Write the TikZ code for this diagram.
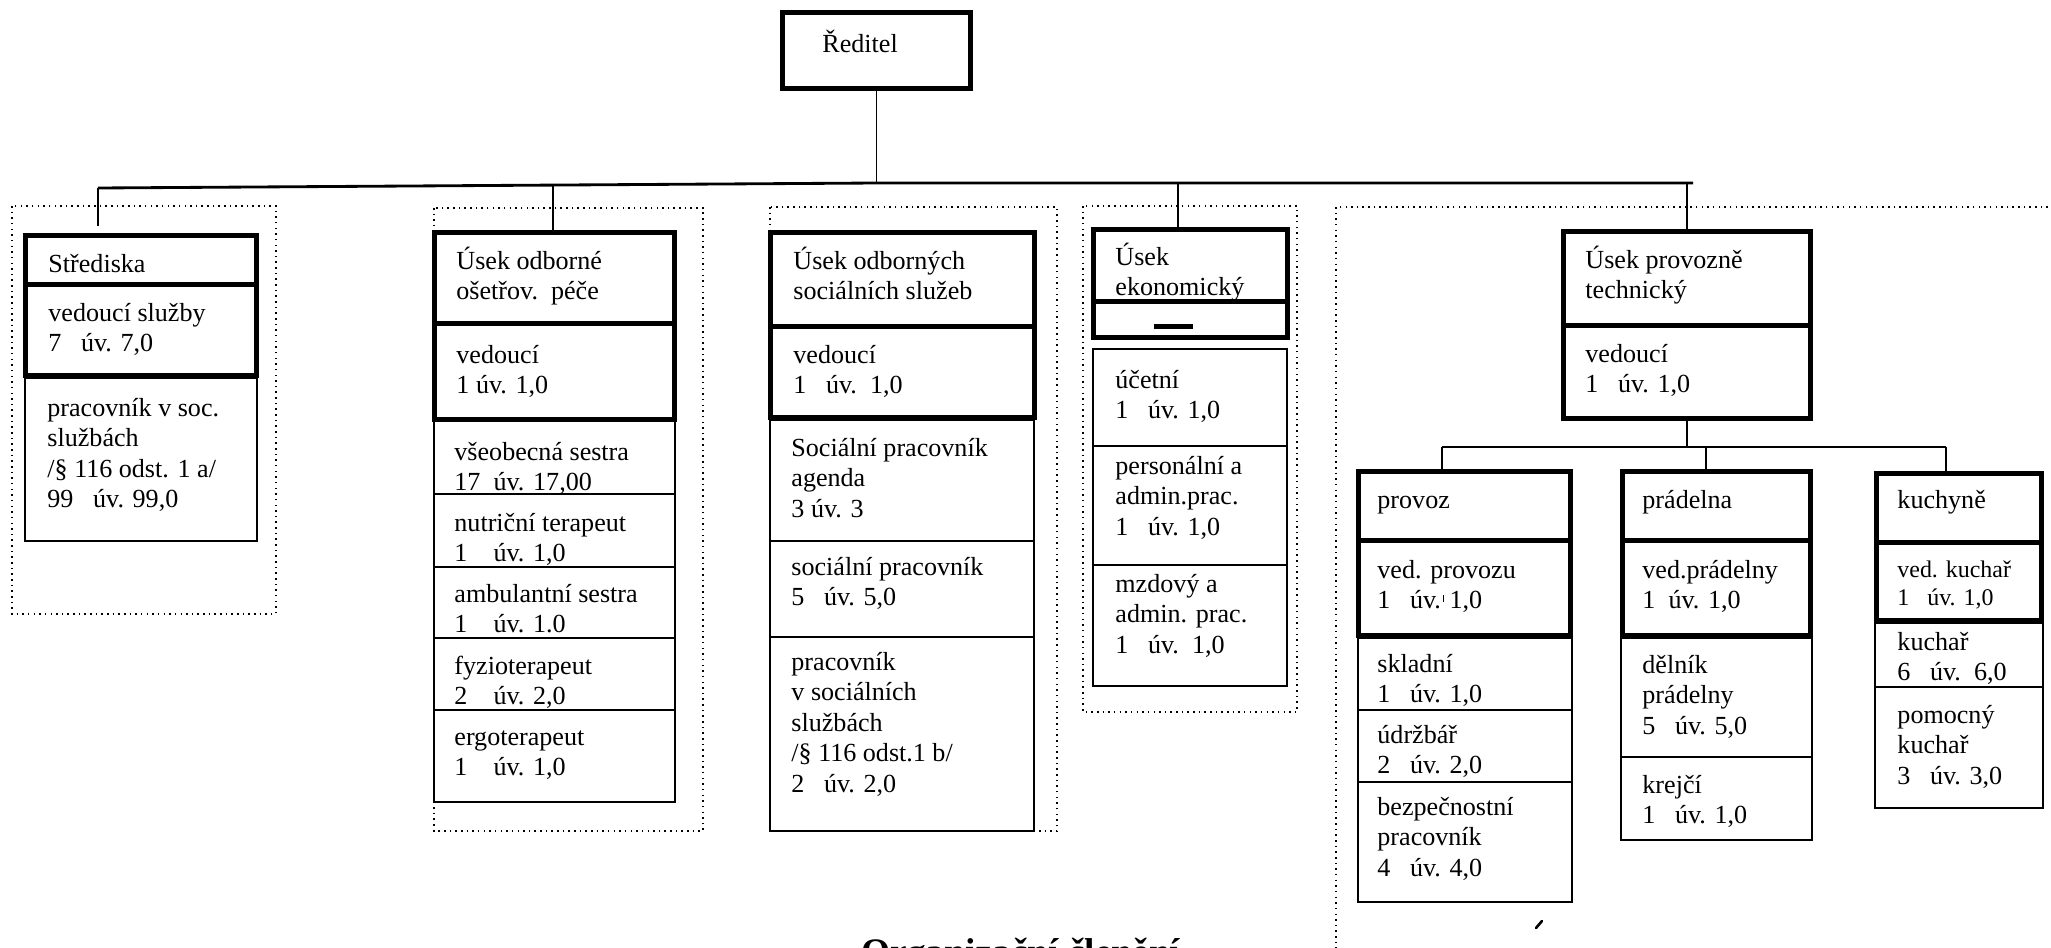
\documentclass[tikz,border=0pt]{standalone}
\usepackage{fontspec}
\setmainfont{Liberation Serif}
\usetikzlibrary{positioning,fit}
\newcommand{\PX}{0.46pt}
\newcommand{\THICK}{2.3pt}
\newcommand{\THIN}{0.9pt}
\newcommand{\rows}[1]{\begin{tabular}[t]{@{}l@{}}#1\end{tabular}}

\begin{document}
\begin{tikzpicture}[x=\PX,y=-\PX]
\tikzstyle{every node}=[font=\fontsize{12}{14.1}\selectfont]
\tikzstyle{headbox}=[draw, line width=\THICK, fill=white, inner sep=0pt]
\tikzstyle{staffbox}=[draw, line width=\THIN, fill=white, inner sep=0pt]
\tikzstyle{txt}=[anchor=base west, inner sep=0pt]
\tikzstyle{grp}=[draw, line width=0.6pt, dash pattern=on 0.7pt off 1.9pt]
\tikzstyle{link}=[line width=\THIN]

\useasboundingbox (0,0) rectangle (2051,947);
\clip (0,0) rectangle (2051,947);

% Sections (dotted frames)
	\draw[grp] (12,206) rectangle (276,614);
	\draw[grp] (434,208) rectangle (703,831);
	\draw[grp] (770,207) rectangle (1057,831);
	\draw[grp] (1083,206) rectangle (1297,712);
	\draw[grp] (1336,207) rectangle (2100,1000);

% Director
	\node[headbox, fit={(782.5,12.5) (970.5,88.5)}] (reditel) {};
	\node[txt] (reditelT) at (822,52) {Ředitel};

% Strediska
	\node[staffbox, fit={(25,378) (257,541)}] (strPrac) {};
	\node[headbox, fit={(25.5,235.5) (256.5,284)}] (strHead) {};
	\node[headbox, fit={(25.5,284) (256.5,375.5)}] (strVed) {};
	\node[txt] (strHeadT) at (48,272) {Střediska};
	\node[txt] (strVedT) at (48,321) {\rows{vedoucí služby\\7~~~úv. 7,0}};
	\node[txt] (strPracT) at (47,416) {\rows{pracovník v soc.\\službách\\/§ 116 odst. 1 a/\\99~~~úv. 99,0}};

% Osetrovatelska pece
	\node[staffbox, fit={(434,421) (675,494)}] (osVs) {};
	\node[staffbox, fit={(434,494) (675,567)}] (osNt) {};
	\node[staffbox, fit={(434,567) (675,638)}] (osAs) {};
	\node[staffbox, fit={(434,638) (675,710)}] (osFz) {};
	\node[staffbox, fit={(434,710) (675,802)}] (osEr) {};
	\node[headbox, fit={(434.5,232.5) (674.5,323)}] (osHead) {};
	\node[headbox, fit={(434.5,323) (674.5,419)}] (osVed) {};
	\node[txt] (osHeadT) at (456,269) {\rows{Úsek odborné\\ošetřov.~~péče}};
	\node[txt] (osVedT) at (456,363) {\rows{vedoucí\\1 úv. 1,0}};
	\node[txt] (osVsT) at (454,460) {\rows{všeobecná sestra\\17~~úv. 17,00}};
	\node[txt] (osNtT) at (454,531) {\rows{nutriční terapeut\\1~~~~úv. 1,0}};
	\node[txt] (osAsT) at (454,602) {\rows{ambulantní sestra\\1~~~~úv. 1.0}};
	\node[txt] (osFzT) at (454,674) {\rows{fyzioterapeut\\2~~~~úv. 2,0}};
	\node[txt] (osErT) at (454,745) {\rows{ergoterapeut\\1~~~~úv. 1,0}};

% Socialni sluzby
	\node[staffbox, fit={(770,420) (1034,541)}] (soAg) {};
	\node[staffbox, fit={(770,541) (1034,637)}] (soSp) {};
	\node[staffbox, fit={(770,637) (1034,831)}] (soPr) {};
	\node[headbox, fit={(770.5,232.5) (1034.5,326)}] (soHead) {};
	\node[headbox, fit={(770.5,326) (1034.5,417.5)}] (soVed) {};
	\node[txt] (soHeadT) at (793,269) {\rows{Úsek odborných\\sociálních služeb}};
	\node[txt] (soVedT) at (793,363) {\rows{vedoucí\\1~~~úv.~~1,0}};
	\node[txt] (soAgT) at (791,456) {\rows{Sociální pracovník\\agenda\\3 úv. 3}};
	\node[txt] (soSpT) at (791,575) {\rows{sociální pracovník\\5~~~úv. 5,0}};
	\node[txt] (soPrT) at (791,670) {\rows{pracovník\\v sociálních\\službách\\/§ 116 odst.1 b/\\2~~~úv. 2,0}};

% Ekonomicky
	\node[staffbox, fit={(1093,349) (1287,446)}] (ekUc) {};
	\node[staffbox, fit={(1093,446) (1287,565)}] (ekPe) {};
	\node[staffbox, fit={(1093,565) (1287,686)}] (ekMz) {};
	\node[headbox, fit={(1093.5,229.5) (1287.5,301)}] (ekHead) {};
	\node[headbox, fit={(1093.5,301) (1287.5,337.5)}] (ekBar) {};
	\draw[line width=\THICK] (1154,326) -- (1193,326);
	\node[txt] (ekHeadT) at (1115,265) {\rows{Úsek\\ekonomický}};
	\node[txt] (ekUcT) at (1115,388) {\rows{účetní\\1~~~úv. 1,0}};
	\node[txt] (ekPeT) at (1115,474) {\rows{personální a\\admin.prac.\\1~~~úv. 1,0}};
	\node[txt] (ekMzT) at (1115,592) {\rows{mzdový a\\admin. prac.\\1~~~úv.~~1,0}};

% Provozne technicky
	\node[headbox, fit={(1563.5,231.5) (1810.5,325)}] (ptHead) {};
	\node[headbox, fit={(1563.5,325) (1810.5,418.5)}] (ptVed) {};
	\node[txt] (ptHeadT) at (1585,268) {\rows{Úsek provozně\\technický}};
	\node[txt] (ptVedT) at (1585,362) {\rows{vedoucí\\1~~~úv. 1,0}};

	% provoz
	\node[staffbox, fit={(1358,638) (1572,710)}] (prSk) {};
	\node[staffbox, fit={(1358,710) (1572,782)}] (prUd) {};
	\node[staffbox, fit={(1358,782) (1572,902)}] (prBp) {};
	\node[headbox, fit={(1358.5,471.5) (1570.5,540)}] (prHead) {};
	\node[headbox, fit={(1358.5,540) (1570.5,635.5)}] (prVed) {};
	\node[txt] (prHeadT) at (1377,508) {provoz};
	\node[txt] (prVedT) at (1377,578) {\rows{ved. provozu\\1~~~úv. 1,0}};
	\draw[line width=0.3pt] (1443,595) -- (1443,602);
	\node[txt] (prSkT) at (1377,672) {\rows{skladní\\1~~~úv. 1,0}};
	\node[txt] (prUdT) at (1377,743) {\rows{údržbář\\2~~~úv. 2,0}};
	\node[txt] (prBpT) at (1377,815) {\rows{bezpečnostní\\pracovník\\4~~~úv. 4,0}};

	% pradelna
	\node[staffbox, fit={(1621,638) (1812,757)}] (paDe) {};
	\node[staffbox, fit={(1621,757) (1812,840)}] (paKr) {};
	\node[headbox, fit={(1622.5,471.5) (1810.5,540)}] (paHead) {};
	\node[headbox, fit={(1622.5,540) (1810.5,635.5)}] (paVed) {};
	\node[txt] (paHeadT) at (1642,508) {prádelna};
	\node[txt] (paVedT) at (1642,578) {\rows{ved.prádelny\\1~~úv. 1,0}};
	\node[txt] (paDeT) at (1642,673) {\rows{dělník\\prádelny\\5~~~úv. 5,0}};
	\node[txt] (paKrT) at (1642,793) {\rows{krejčí\\1~~~úv. 1,0}};

	% kuchyne
	\node[staffbox, fit={(1875,623) (2043,687)}] (kuKu) {};
	\node[staffbox, fit={(1875,687) (2043,808)}] (kuPo) {};
	\node[headbox, fit={(1876.5,473.5) (2041.5,542)}] (kuHead) {};
	\node[headbox, fit={(1876.5,542) (2041.5,620.5)}] (kuVed) {};
	\node[txt] (kuHeadT) at (1897,508) {kuchyně};
	\node[txt, font=\fontsize{11}{13}\selectfont] (kuVedT) at (1897,577) {\rows{ved. kuchař\\1~~~úv. 1,0}};
	\node[txt] (kuKuT) at (1897,650) {\rows{kuchař\\6~~~úv.~~6,0}};
	\node[txt] (kuPoT) at (1897,723) {\rows{pomocný\\kuchař\\3~~~úv. 3,0}};

% Main line
	\coordinate (busL) at (98,188);
	\coordinate (busM) at (876,183);
	\coordinate (busR) at (1693,183);
	\coordinate (busO) at (553,185);
	\coordinate (busE) at (1178,183);
	\draw[line width=1.3pt] (busL) -- (busM) -- (busR);
	\draw[line width=0.7pt] (reditel.south) -- (reditel.south |- busM);
	\draw[link, shorten >=3pt] (busL) -- (busL |- strHead.north);
	\draw[link] (busO) -- (busO |- osHead.north);
	\draw[link] (busE) -- (busE |- ekHead.north);
	\draw[link] (ptHead.north |- busR) -- (ptHead.north);

% Sub line
	\coordinate (subL) at (1442,447);
	\coordinate (subM) at (1706,447);
	\coordinate (subR) at (1946,447);
	\draw[line width=0.7pt] (ptVed.south) -- (ptVed.south |- subL);
	\draw[line width=0.7pt] (subL) -- (subR);
	\draw[line width=0.7pt] (subL) -- (subL |- prHead.north);
	\draw[line width=0.7pt] (subM) -- (subM |- paHead.north);
	\draw[line width=0.7pt] (subR) -- (subR |- kuHead.north);

% Title
	\node[txt, font=\fontsize{17.2}{20}\selectfont\bfseries] (title) at (861,964) {Organizační členění};
	\draw[line width=1.2pt, line cap=round] (1536,928) -- (1542,921);

\end{tikzpicture}
\end{document}
